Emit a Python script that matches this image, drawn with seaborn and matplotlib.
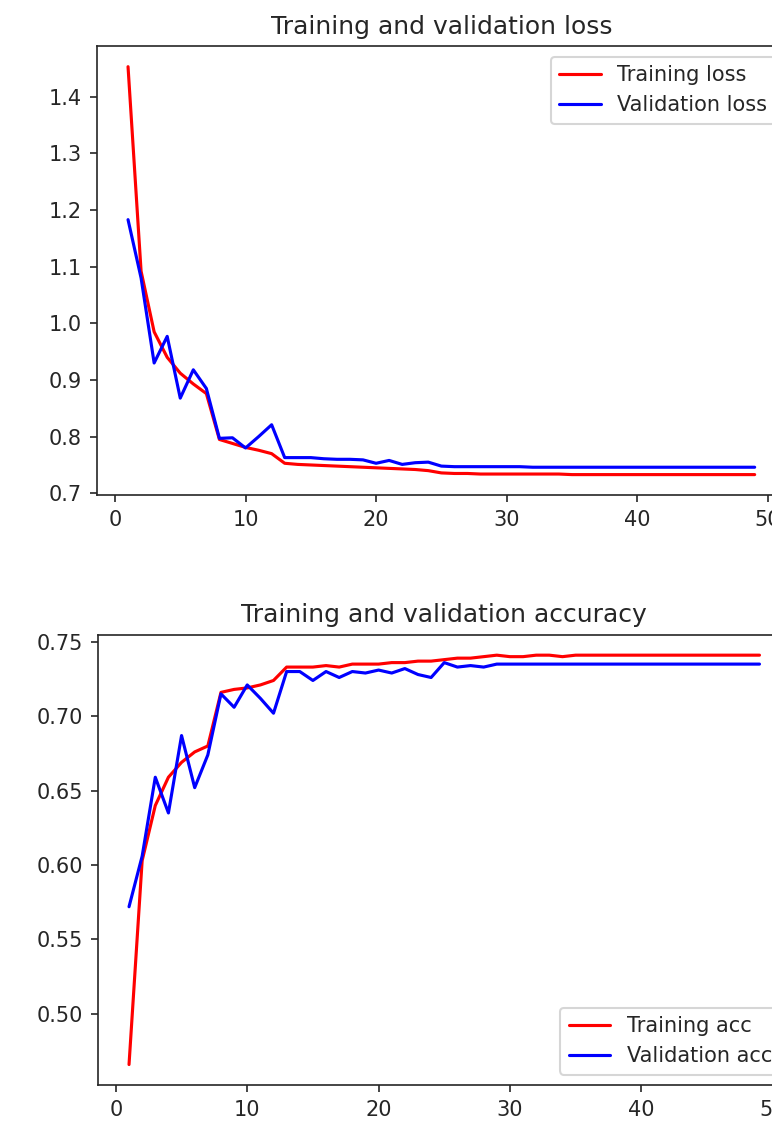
import numpy as np
import pandas as pd
import matplotlib
matplotlib.use("Agg")
import matplotlib.pyplot as plt
import seaborn as sns

# --- DATA ---
epochs = list(range(1, 50))

train_loss = [1.453, 1.092, 0.985, 0.940, 0.912, 0.893, 0.876, 0.795, 0.788, 0.781,
              0.776, 0.770, 0.753, 0.751, 0.750, 0.749, 0.748, 0.747, 0.746, 0.745,
              0.744, 0.743, 0.742, 0.740, 0.736, 0.735, 0.735, 0.734, 0.734, 0.734,
              0.734, 0.734, 0.734, 0.734, 0.733, 0.733, 0.733, 0.733, 0.733, 0.733,
              0.733, 0.733, 0.733, 0.733, 0.733, 0.733, 0.733, 0.733, 0.733]
val_loss = [1.183, 1.080, 0.930, 0.977, 0.868, 0.918, 0.885, 0.797, 0.798, 0.780,
            0.800, 0.821, 0.763, 0.763, 0.763, 0.761, 0.760, 0.760, 0.759, 0.753,
            0.758, 0.751, 0.754, 0.755, 0.748, 0.747, 0.747, 0.747, 0.747, 0.747,
            0.747, 0.746, 0.746, 0.746, 0.746, 0.746, 0.746, 0.746, 0.746, 0.746,
            0.746, 0.746, 0.746, 0.746, 0.746, 0.746, 0.746, 0.746, 0.746]

train_acc = [0.466, 0.603, 0.640, 0.659, 0.669, 0.676, 0.680, 0.716, 0.718, 0.719,
             0.721, 0.724, 0.733, 0.733, 0.733, 0.734, 0.733, 0.735, 0.735, 0.735,
             0.736, 0.736, 0.737, 0.737, 0.738, 0.739, 0.739, 0.740, 0.741, 0.740,
             0.740, 0.741, 0.741, 0.740, 0.741, 0.741, 0.741, 0.741, 0.741, 0.741,
             0.741, 0.741, 0.741, 0.741, 0.741, 0.741, 0.741, 0.741, 0.741]
val_acc = [0.572, 0.606, 0.659, 0.635, 0.687, 0.652, 0.674, 0.715, 0.706, 0.721,
           0.712, 0.702, 0.730, 0.730, 0.724, 0.730, 0.726, 0.730, 0.729, 0.731,
           0.729, 0.732, 0.728, 0.726, 0.736, 0.733, 0.734, 0.733, 0.735, 0.735,
           0.735, 0.735, 0.735, 0.735, 0.735, 0.735, 0.735, 0.735, 0.735, 0.735,
           0.735, 0.735, 0.735, 0.735, 0.735, 0.735, 0.735, 0.735, 0.735]

sns.set_style("ticks")
plt.rcParams['font.family'] = ['DejaVu Sans']

DPI = 150
W, H = 772, 1129
fig = plt.figure(figsize=(W / DPI, H / DPI), dpi=DPI)

# axes run past the right edge, like the cropped screenshot
ax1 = fig.add_axes([96.7 / W, 1 - 495 / H, (786 - 96.7) / W, (495 - 46.3) / H])
ax2 = fig.add_axes([97.5 / W, 1 - 1085 / H, (791 - 97.5) / W, (1085 - 634.7) / H])

# 1. loss
sns.lineplot(x=epochs, y=train_loss, color='r', label='Training loss', ax=ax1)
sns.lineplot(x=epochs, y=val_loss, color='b', label='Validation loss', ax=ax1)
ax1.set_title('Training and validation loss')
ax1.legend(loc='upper right')

# 2. accuracy
sns.lineplot(x=epochs, y=train_acc, color='r', label='Training acc', ax=ax2)
sns.lineplot(x=epochs, y=val_acc, color='b', label='Validation acc', ax=ax2)
ax2.set_title('Training and validation accuracy')
ax2.legend(loc='lower right')

fig.savefig('out.png', dpi=DPI)
plt.close(fig)
